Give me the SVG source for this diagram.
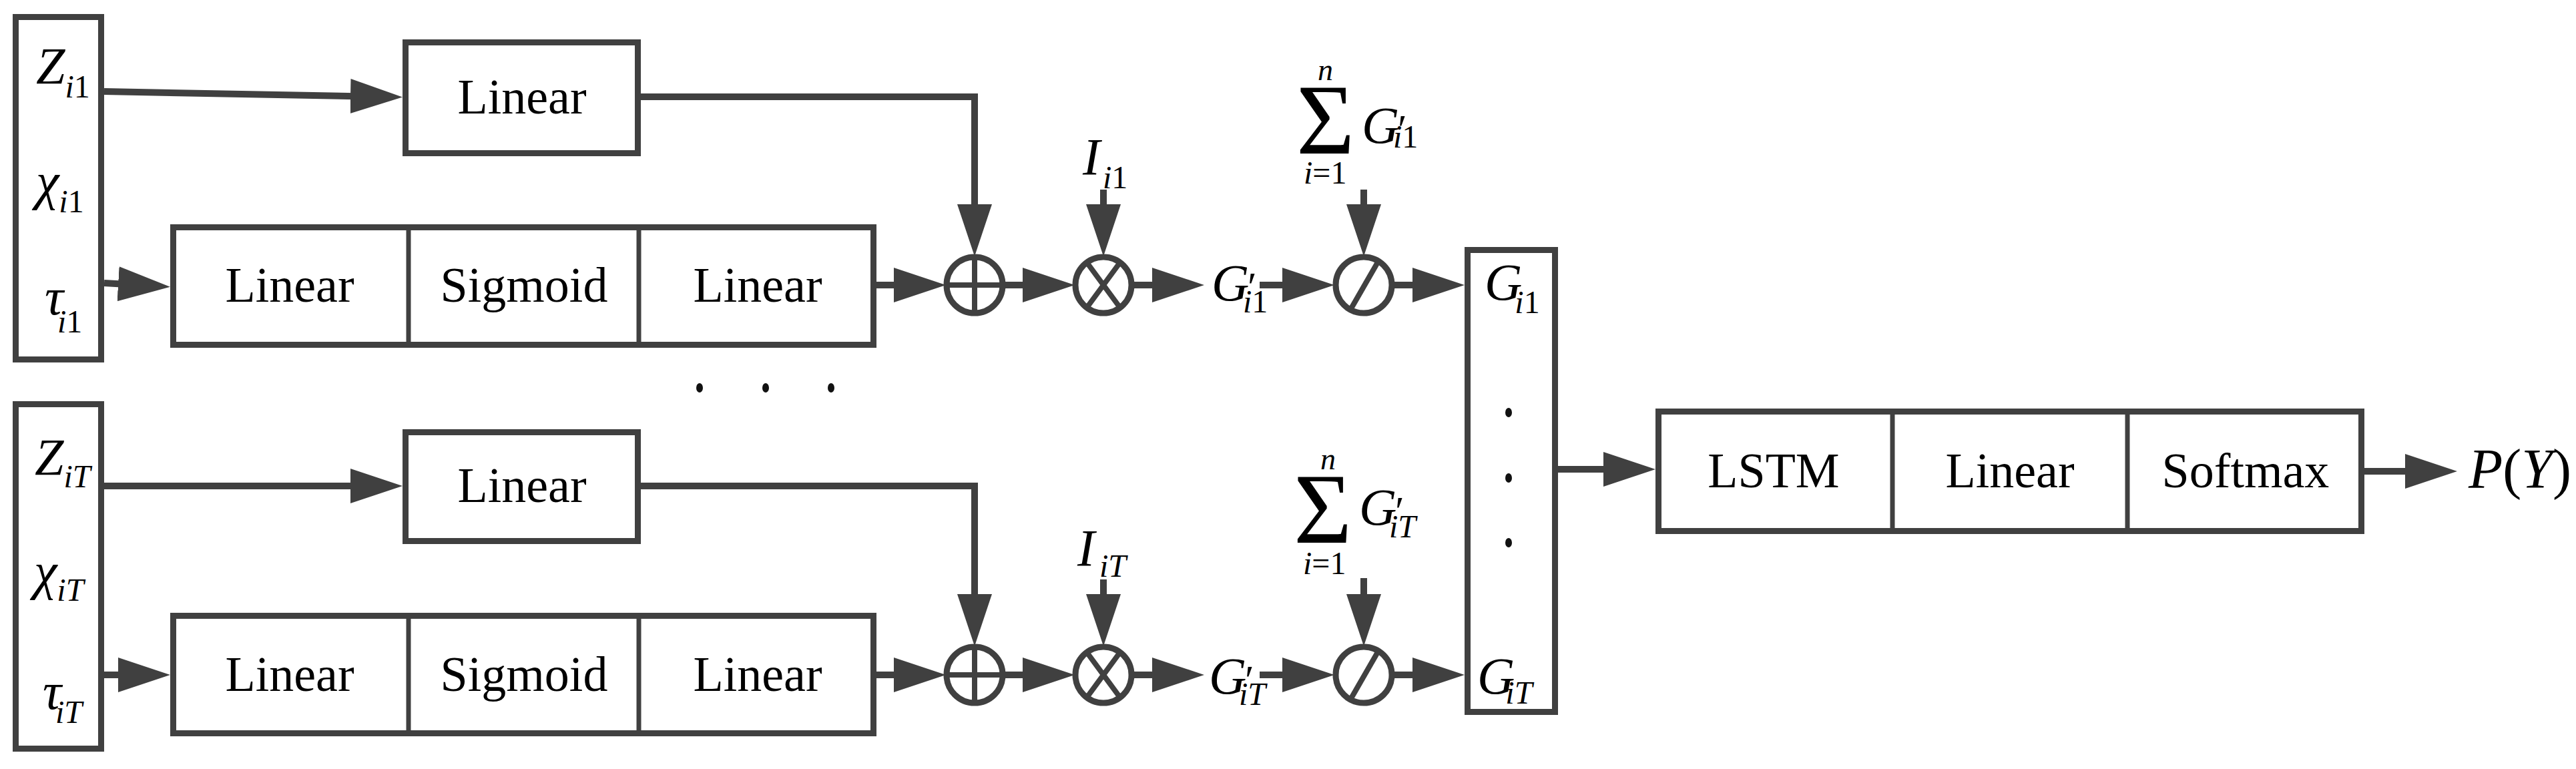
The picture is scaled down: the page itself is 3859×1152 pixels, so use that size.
<svg xmlns="http://www.w3.org/2000/svg" width="3859" height="1152" viewBox="0 0 3859 1152">
<style>
.bx{fill:#fff;stroke:#404040;stroke-width:9}
.dv{stroke:#404040;stroke-width:7}
.cn{fill:none;stroke:#404040;stroke-width:10;marker-end:url(#ah)}
.op{fill:#fff;stroke:#404040;stroke-width:9}
.ol{stroke:#404040;stroke-width:8}
text{font-family:'Liberation Serif','Times New Roman',serif;fill:#000}
.t{font-size:74px;text-anchor:middle}
.m{font-size:78px;font-style:italic}
.s{font-size:48px;font-style:italic}
.u{font-style:normal}
.big{font-size:150px;font-style:normal}
.sm{font-size:46px;font-style:italic}
.pr{font-size:62px;font-style:italic}
.dot{fill:#111}
</style>
<defs>
<marker id="ah" markerUnits="userSpaceOnUse" markerWidth="80" markerHeight="54" refX="48" refY="26" orient="auto">
<path d="M0,0 L78,26 L0,52 z" fill="#404040"/>
</marker>
</defs>

<g id="connectors">
<path class="cn" d="M156,137 L573,145"/>
<path class="cn" d="M156,424 L225,428"/>
<path class="cn" d="M960,145 H1460 V354"/>
<path class="cn" d="M1313,427 H1387"/>
<path class="cn" d="M1503,427 H1580"/>
<path class="cn" d="M1653,284 V354"/>
<path class="cn" d="M1696,427 H1774"/>
<path class="cn" d="M1887,427 H1969"/>
<path class="cn" d="M2043,284 V354"/>
<path class="cn" d="M2086,427 H2164"/>
<path class="cn" d="M156,728 H573"/>
<path class="cn" d="M156,1011 H225"/>
<path class="cn" d="M960,728 H1460 V938"/>
<path class="cn" d="M1313,1011 H1387"/>
<path class="cn" d="M1503,1011 H1580"/>
<path class="cn" d="M1653,868 V938"/>
<path class="cn" d="M1696,1011 H1774"/>
<path class="cn" d="M1887,1011 H1969"/>
<path class="cn" d="M2043,866 V938"/>
<path class="cn" d="M2086,1011 H2164"/>
<path class="cn" d="M2334,703 H2450"/>
<path class="cn" d="M3542,706 H3651"/>
</g>

<g id="input1">
<rect class="bx" x="23.5" y="25.5" width="128" height="513"/>
<text class="m" x="54" y="125">Z<tspan class="s" dy="21">i</tspan><tspan class="s u">1</tspan></text>
<text class="m" x="54" y="298">χ<tspan class="s" dy="20">i</tspan><tspan class="s u">1</tspan></text>
<text class="m" x="67" y="471">τ<tspan class="s" dx="-9" dy="27">i</tspan><tspan class="s u">1</tspan></text>
</g>

<g id="input2">
<rect class="bx" x="23.5" y="605.5" width="128" height="516"/>
<text class="m" x="52" y="711">Z<tspan class="s" dy="19">iT</tspan></text>
<text class="m" x="51" y="882">χ<tspan class="s" dy="18">iT</tspan></text>
<text class="m" x="64" y="1062">τ<tspan class="s" dx="-9" dy="21">iT</tspan></text>
</g>

<g id="linear1">
<rect class="bx" x="607.5" y="63.5" width="348" height="166"/>
<text class="t" x="782" y="170">Linear</text>
</g>
<g id="linear2">
<rect class="bx" x="607.5" y="647.5" width="348" height="163"/>
<text class="t" x="782" y="752">Linear</text>
</g>

<g id="row1">
<rect class="bx" x="259.5" y="340.5" width="1049" height="176"/>
<line class="dv" x1="612" y1="340" x2="612" y2="517"/>
<line class="dv" x1="957" y1="340" x2="957" y2="517"/>
<text class="t" x="434" y="452">Linear</text>
<text class="t" x="785" y="452">Sigmoid</text>
<text class="t" x="1135" y="452">Linear</text>
</g>
<g id="row2">
<rect class="bx" x="259.5" y="922.5" width="1049" height="176"/>
<line class="dv" x1="612" y1="922" x2="612" y2="1099"/>
<line class="dv" x1="957" y1="922" x2="957" y2="1099"/>
<text class="t" x="434" y="1035">Linear</text>
<text class="t" x="785" y="1035">Sigmoid</text>
<text class="t" x="1135" y="1035">Linear</text>
</g>

<g id="dots-h">
<ellipse class="dot" cx="1048" cy="581" rx="5" ry="7"/>
<ellipse class="dot" cx="1147" cy="581" rx="5" ry="7"/>
<ellipse class="dot" cx="1245" cy="581" rx="5" ry="7"/>
</g>

<g id="plus1">
<circle class="op" cx="1460" cy="427" r="42"/>
<line class="ol" x1="1460" y1="385" x2="1460" y2="469"/>
<line class="ol" x1="1418" y1="427" x2="1502" y2="427"/>
</g>
<g id="times1">
<circle class="op" cx="1653" cy="427" r="42"/>
<line class="ol" x1="1628" y1="393" x2="1678" y2="461"/>
<line class="ol" x1="1678" y1="393" x2="1628" y2="461"/>
</g>
<g id="div1">
<circle class="op" cx="2043" cy="427" r="42"/>
<line class="ol" x1="2023" y1="464" x2="2065" y2="391"/>
</g>
<g id="plus2">
<circle class="op" cx="1460" cy="1011" r="42"/>
<line class="ol" x1="1460" y1="969" x2="1460" y2="1053"/>
<line class="ol" x1="1418" y1="1011" x2="1502" y2="1011"/>
</g>
<g id="times2">
<circle class="op" cx="1653" cy="1011" r="42"/>
<line class="ol" x1="1628" y1="977" x2="1678" y2="1045"/>
<line class="ol" x1="1678" y1="977" x2="1628" y2="1045"/>
</g>
<g id="div2">
<circle class="op" cx="2043" cy="1011" r="42"/>
<line class="ol" x1="2023" y1="1048" x2="2065" y2="975"/>
</g>

<g id="I1"><text class="m" x="1622" y="261">I<tspan class="s" dx="4" dy="21">i</tspan><tspan class="s u">1</tspan></text></g>
<g id="I2"><text class="m" x="1614" y="847">I<tspan class="s" dx="7" dy="17">iT</tspan></text></g>

<g id="Gp1"><text class="m" x="1815" y="450">G<tspan class="pr" dx="-6">′</tspan><tspan class="s" dx="-17" dy="18">i</tspan><tspan class="s u">1</tspan></text></g>
<g id="Gp2"><text class="m" x="1811" y="1039">G<tspan class="pr" dx="-6">′</tspan><tspan class="s" dx="-19" dy="17">iT</tspan></text></g>

<g id="sum1">
<text class="m"><tspan class="sm" x="1974" y="120">n</tspan><tspan class="big" x="1942" y="230">Σ</tspan><tspan class="s" x="1953" y="275">i</tspan><tspan class="s u">=1</tspan><tspan x="2040" y="214">G</tspan><tspan class="pr" dx="-6">′</tspan><tspan class="s" dx="-17" dy="7">i</tspan><tspan class="s u">1</tspan></text>
</g>
<g id="sum2">
<text class="m"><tspan class="sm" x="1978" y="703">n</tspan><tspan class="big" x="1938" y="813">Σ</tspan><tspan class="s" x="1952" y="860">i</tspan><tspan class="s u">=1</tspan><tspan x="2036" y="786">G</tspan><tspan class="pr" dx="-6">′</tspan><tspan class="s" dx="-19" dy="19">iT</tspan></text>
</g>

<g id="gbox">
<rect class="bx" x="2198.5" y="374.5" width="131" height="692"/>
<text class="m" x="2224" y="449">G<tspan class="s" dx="-11" dy="20">i</tspan><tspan class="s u">1</tspan></text>
<ellipse class="dot" cx="2260" cy="618" rx="5" ry="7"/>
<ellipse class="dot" cx="2260" cy="716" rx="5" ry="7"/>
<ellipse class="dot" cx="2260" cy="813" rx="5" ry="7"/>
<text class="m" x="2213" y="1039">G<tspan class="s" dx="-14" dy="15">iT</tspan></text>
</g>

<g id="head">
<rect class="bx" x="2484.5" y="616.5" width="1053" height="179"/>
<line class="dv" x1="2835" y1="616" x2="2835" y2="796"/>
<line class="dv" x1="3187" y1="616" x2="3187" y2="796"/>
<text class="t" x="2657" y="730">LSTM</text>
<text class="t" x="3011" y="730">Linear</text>
<text class="t" x="3364" y="730">Softmax</text>
</g>

<g id="output"><text class="m" x="3698" y="731" style="font-size:84px">P<tspan class="u">(</tspan>Y<tspan class="u">)</tspan></text></g>
</svg>
